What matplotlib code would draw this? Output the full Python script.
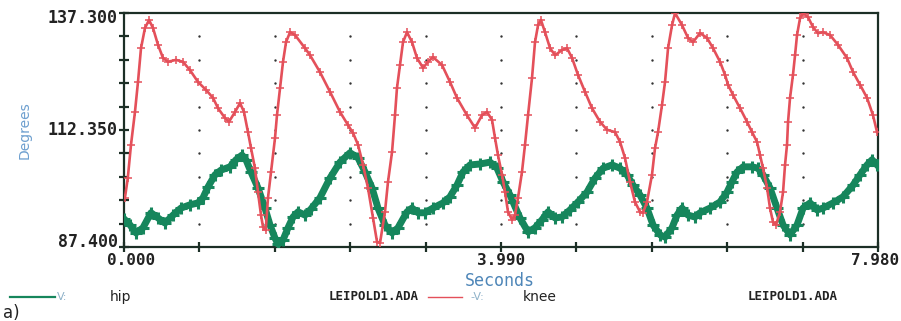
import numpy as np
import matplotlib
matplotlib.use("Agg")
import matplotlib.pyplot as plt

# knee angle (red), seconds / degrees
knee_t = [0.01, 0.04, 0.074, 0.116, 0.148, 0.180, 0.222, 0.265, 0.307, 0.360,
          0.413, 0.466, 0.550, 0.624, 0.699, 0.783, 0.868, 0.942, 0.995, 1.069,
          1.111, 1.175, 1.228, 1.270, 1.312, 1.344, 1.386, 1.418, 1.450, 1.471,
          1.500, 1.524, 1.556, 1.598, 1.619, 1.651, 1.683, 1.715, 1.757, 1.810,
          1.916, 1.969, 2.074, 2.180, 2.286, 2.371, 2.424, 2.477, 2.530, 2.582,
          2.635, 2.678, 2.710, 2.762, 2.794, 2.837, 2.868, 2.889, 2.921, 2.953,
          2.995, 3.048, 3.101, 3.165, 3.218, 3.270, 3.366, 3.450, 3.524, 3.630,
          3.715, 3.789, 3.842, 3.895, 3.927, 3.958, 4.001, 4.033, 4.064, 4.107,
          4.138, 4.170, 4.212, 4.244, 4.276, 4.318, 4.350, 4.382, 4.413, 4.456,
          4.509, 4.562, 4.636, 4.689, 4.742, 4.805, 4.879, 4.953, 5.038, 5.112,
          5.197, 5.250, 5.302, 5.355, 5.408, 5.461, 5.493, 5.535, 5.588, 5.620,
          5.652, 5.694, 5.726, 5.758, 5.800, 5.832, 5.906, 5.969, 6.022, 6.096,
          6.170, 6.234, 6.308, 6.361, 6.393, 6.446, 6.520, 6.594, 6.647, 6.700,
          6.731, 6.763, 6.806, 6.837, 6.869, 6.901, 6.943, 6.975, 6.996, 7.017,
          7.028, 7.049, 7.080, 7.102, 7.123, 7.155, 7.187, 7.240, 7.292, 7.345,
          7.398, 7.472, 7.557, 7.652, 7.716, 7.790, 7.864, 7.927, 7.970]
knee_deg = [97.9, 102.1, 109.2, 116.2, 122.6, 129.8, 134.1, 135.8, 134.1, 130.5,
            127.7, 126.9, 127.3, 126.9, 125.1, 122.6, 120.9, 119.2, 117.0, 114.9,
            114.1, 116.2, 118.1, 116.2, 111.9, 108.5, 104.2, 99.1, 94.2, 91.7,
            91.0, 97.9, 103.4, 110.6, 115.5, 121.3, 126.9, 131.1, 133.2, 132.6,
            129.8, 128.3, 124.7, 120.5, 116.2, 113.4, 111.7, 109.2, 104.9, 100.0,
            93.6, 88.5, 88.3, 94.9, 101.3, 107.7, 115.5, 121.3, 126.2, 131.1,
            133.2, 131.1, 127.7, 125.6, 126.9, 127.9, 126.2, 122.6, 119.2, 115.5,
            112.8, 115.5, 116.2, 114.5, 110.6, 107.0, 102.8, 99.1, 94.9, 93.2,
            94.2, 97.9, 103.4, 109.2, 115.5, 123.4, 131.1, 134.7, 135.8, 133.2,
            129.8, 128.3, 129.4, 129.8, 127.7, 124.1, 120.5, 117.0, 114.1, 112.4,
            111.9, 109.8, 106.4, 101.3, 97.0, 94.9, 94.7, 97.0, 102.8, 108.5,
            111.9, 117.7, 122.6, 129.8, 134.7, 137.3, 134.7, 132.0, 131.1, 133.0,
            132.0, 129.8, 126.9, 124.1, 122.0, 119.8, 117.0, 114.1, 111.9, 109.8,
            107.0, 104.2, 100.0, 95.7, 92.7, 92.1, 94.9, 99.1, 104.9, 109.2,
            114.1, 119.2, 124.1, 128.3, 132.6, 136.2, 137.3, 136.4, 134.3, 133.0,
            133.2, 132.6, 130.5, 127.7, 124.7, 122.0, 119.2, 115.5, 111.9]

# hip angle (green)
hip_t = [0.0, 0.064, 0.127, 0.201, 0.286, 0.360, 0.434, 0.519, 0.603, 0.699,
         0.783, 0.836, 0.889, 0.963, 1.027, 1.122, 1.185, 1.249, 1.291, 1.344,
         1.418, 1.492, 1.545, 1.598, 1.630, 1.683, 1.736, 1.789, 1.842, 1.916,
         1.979, 2.074, 2.180, 2.286, 2.392, 2.477, 2.551, 2.625, 2.688, 2.762,
         2.837, 2.900, 2.995, 3.048, 3.112, 3.186, 3.270, 3.376, 3.450, 3.524,
         3.588, 3.662, 3.768, 3.874, 3.948, 4.011, 4.085, 4.117, 4.191, 4.276,
         4.350, 4.424, 4.488, 4.562, 4.636, 4.720, 4.805, 4.900, 4.985, 5.070,
         5.165, 5.250, 5.324, 5.387, 5.461, 5.535, 5.599, 5.673, 5.726, 5.800,
         5.853, 5.906, 5.969, 6.043, 6.096, 6.202, 6.308, 6.382, 6.435, 6.488,
         6.552, 6.647, 6.710, 6.763, 6.837, 6.911, 6.975, 7.049, 7.123, 7.187,
         7.261, 7.335, 7.398, 7.504, 7.610, 7.716, 7.790, 7.864, 7.917, 7.970]
hip_deg = [93.4, 92.1, 90.4, 91.5, 94.7, 93.6, 92.5, 94.2, 95.7, 96.4,
           96.8, 97.9, 100.2, 102.8, 103.8, 104.5, 106.0, 107.0, 106.0, 103.4,
           100.0, 95.7, 92.1, 89.3, 88.0, 88.9, 91.5, 93.8, 94.9, 94.2,
           95.5, 97.9, 102.1, 105.5, 107.5, 106.4, 103.4, 100.0, 95.7, 92.1,
           90.4, 91.5, 94.9, 95.7, 94.7, 94.7, 95.7, 96.8, 98.1, 100.6,
           103.4, 104.9, 105.1, 105.5, 104.2, 101.3, 98.5, 97.0, 93.6, 90.6,
           91.5, 93.2, 94.9, 93.6, 93.8, 95.3, 97.0, 99.1, 102.1, 104.2,
           104.9, 104.2, 102.8, 100.6, 98.5, 95.7, 92.1, 90.0, 89.5, 91.5,
           94.2, 95.7, 94.2, 93.8, 94.7, 95.7, 97.0, 99.1, 101.3, 103.4,
           104.5, 104.5, 104.2, 102.8, 100.0, 95.7, 92.1, 90.0, 92.1, 95.7,
           96.8, 95.3, 95.7, 96.8, 98.1, 100.6, 102.8, 104.9, 106.0, 104.9]

x_min, x_max = 0.0, 7.98
y_min, y_max = 87.4, 137.3
x_ticklabels = ["0.000", "3.990", "7.980"]
y_ticklabels = ["87.400", "112.350", "137.300"]

RED = "#e4505a"
GREEN = "#16865c"
AXC = "#1c2f26"
MONO = "DejaVu Sans Mono"

fig = plt.figure(figsize=(9.01, 3.21), dpi=100)
ax = fig.add_axes([124 / 901, 74 / 321, 754 / 901, 234 / 321])

ax.plot(hip_t, hip_deg, color=GREEN, lw=5, marker="+", ms=8, mew=2.2,
        solid_joinstyle="round", zorder=3)
ax.plot(knee_t, knee_deg, color=RED, lw=1.9, marker="+", ms=6, mew=1.1, zorder=4)

ax.set_xlim(x_min, x_max)
ax.set_ylim(y_min, y_max)

# dotted grid: a dot at every inner division crossing
gx = np.linspace(x_min, x_max, 11)[1:-1]
gy = np.linspace(y_min, y_max, 11)[1:-1]
GX, GY = np.meshgrid(gx, gy)
ax.scatter(GX.ravel(), GY.ravel(), s=3, color="#333333", zorder=2, linewidths=0)

ax.set_xticks(np.linspace(x_min, x_max, 11))
ax.set_yticks(np.linspace(y_min, y_max, 11))
ax.set_xticklabels([])
ax.set_yticklabels([])
ax.tick_params(axis="both", direction="inout", length=7, width=1.6, color=AXC)
for s in ax.spines.values():
    s.set_color(AXC)
    s.set_linewidth(1.6)

# tick labels only at ends and middle
tx = [0.08, (x_min + x_max) / 2, x_max + 0.22]
for t, lab, ha in zip(tx, x_ticklabels, ["center", "center", "right"]):
    ax.text(t, -0.025, lab, transform=ax.get_xaxis_transform(), ha=ha, va="top",
            family=MONO, weight="bold", fontsize=11.5, color="#222222")
ty = [y_min + 1.0, (y_min + y_max) / 2, y_max - 1.0]
for v, lab in zip(ty, y_ticklabels):
    ax.text(-0.008, v, lab, transform=ax.get_yaxis_transform(), ha="right",
            va="center", family=MONO, weight="bold", fontsize=12, color="#222222")

fig.text(25 / 901, 1 - 130 / 321, "Degrees", rotation=90, ha="center", va="center",
         fontsize=10, color="#6d9fcf")
fig.text(500 / 901, 1 - 281 / 321, "Seconds", ha="center", va="center",
         family=MONO, fontsize=12, color="#4e86b8")

# legend row
ly = 1 - 297 / 321
fig.add_artist(plt.Line2D([10 / 901, 55 / 901], [ly, ly], color=GREEN, lw=1.6))
fig.text(57 / 901, ly, "V:", ha="left", va="center", fontsize=8, color="#8fb2c9")
fig.text(110 / 901, ly, "hip", ha="left", va="center", fontsize=10, color="#222222")
fig.text(374 / 901, ly, "LEIPOLD1.ADA", ha="center", va="center", family=MONO,
         weight="bold", fontsize=9, color="#222222")
fig.add_artist(plt.Line2D([428 / 901, 462 / 901], [ly, ly], color=RED, lw=1.0))
fig.text(470 / 901, ly, "-V:", ha="left", va="center", fontsize=8, color="#8fb2c9")
fig.text(523 / 901, ly, "knee", ha="left", va="center", fontsize=10, color="#222222")
fig.text(793 / 901, ly, "LEIPOLD1.ADA", ha="center", va="center", family=MONO,
         weight="bold", fontsize=9, color="#222222")
fig.text(3 / 901, 1 - 313 / 321, "a)", ha="left", va="center", fontsize=12,
         color="#222222")

fig.savefig("out.png", dpi=100)
